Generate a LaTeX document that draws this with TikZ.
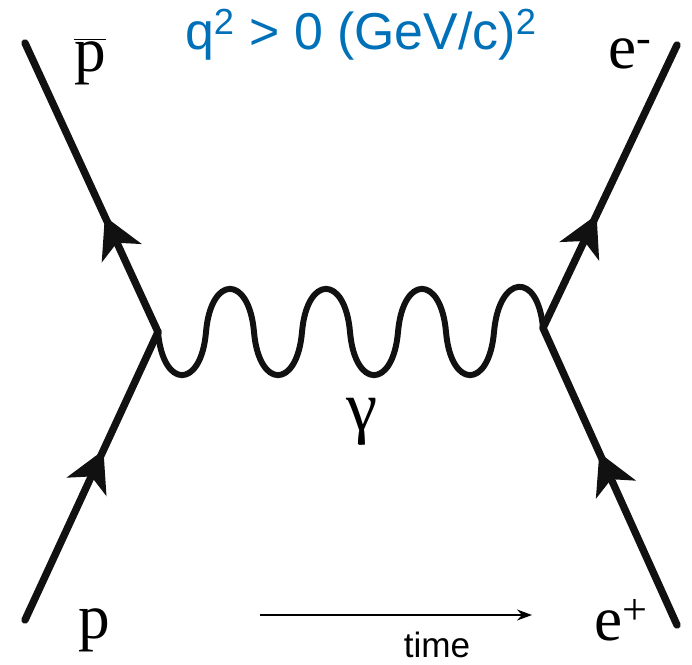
\documentclass[tikz,border=0pt]{standalone}
\usepackage{fontspec}
\usepackage{tikz}
\usepackage{xcolor}
\usetikzlibrary{arrows.meta, decorations.markings}
\setmainfont{Liberation Serif}
\newfontfamily\labelsans{Liberation Sans}
\definecolor{TitleBlue}{HTML}{0070B8}
\definecolor{LineBlack}{HTML}{111111}
\tikzset{
    % Particle lines
    fermionline/.style={
        draw=LineBlack,
        line width=4.2pt,
        line cap=round,
        postaction={decorate},
        decoration={markings,
            mark=at position #1 with {\arrow{Stealth[length=0.8cm,width=0.86cm,inset=0.22cm]}}}
    },
    fermionline/.default=0.4,
    photonline/.style={
        draw=LineBlack,
        line width=3.4pt,
        line join=round
    },
    % Text styles
    particlelabel/.style={
        font=\fontsize{36}{40}\selectfont,
        inner sep=0pt
    },
    titlelabel/.style={
        font=\labelsans\fontsize{29.5}{33}\selectfont,
        text=TitleBlue,
        inner sep=0pt
    },
    % Time axis
    timearrow/.style={
        ->,
        >={Stealth[length=0.3cm,width=0.22cm]},
        line width=0.8pt,
        black
    }
}
\begin{document}
\begin{tikzpicture}
    \useasboundingbox (0,0) rectangle (13.84,13.28);

    % Vertices and external ends
    \coordinate (vleft) at (3.16,6.64);
    \coordinate (vright) at (10.86,6.72);
    \coordinate (pbarend) at (0.5,12.42);
    \coordinate (pend) at (0.5,0.88);
    \coordinate (eminusend) at (13.54,12.38);
    \coordinate (eplusend) at (13.54,0.78);

    % Fermion lines
    \draw[fermionline=0.4] (vleft) -- (pbarend);
    \draw[fermionline=0.59] (pend) -- (vleft);
    \draw[fermionline=0.4] (vright) -- (eminusend);
    \draw[fermionline=0.58] (eplusend) -- (vright);

    % Photon
    \draw[photonline] (vleft)
        \foreach \k in {1,2,3}{
            .. controls +(0.1,-1.15) and +(-0.1,-1.15) .. ++(0.96,0)
            .. controls +(0.1,1.15) and +(-0.1,1.15) .. ++(0.96,0)
        }
        .. controls +(0.1,-1.15) and +(-0.1,-1.15) .. ++(0.96,0)
        .. controls +(0.1,1.15) and +(-0.1,1.15) .. (vright);

    % Labels
    \node[particlelabel] (pbar) at (1.8,12.04) {$\overline{\mbox{p}}$};
    \node[particlelabel] (p) at (1.88,0.68) {p};
    \node[particlelabel] (eminus) at (12.6,12.2) {e\textsuperscript{-}};
    \node[particlelabel] (eplus) at (12.42,0.88) {e\textsuperscript{+}};
    \node[particlelabel,font=\fontsize{40}{44}\selectfont] (gamma) at (7.24,4.84) {γ};

    % Kinematic region
    \node[titlelabel,anchor=base] (title) at (7.22,12.28) {q\textsuperscript{2} > 0 (GeV/c)\textsuperscript{2}};

    % Time direction
    \coordinate (tstart) at (5.2,0.98);
    \coordinate (tend) at (10.64,0.98);
    \draw[timearrow] (tstart) -- (tend);
    \node[font=\labelsans\fontsize{20}{24}\selectfont,anchor=base,inner sep=0pt] (timelabel) at (8.74,0.14) {time};
\end{tikzpicture}
\end{document}
